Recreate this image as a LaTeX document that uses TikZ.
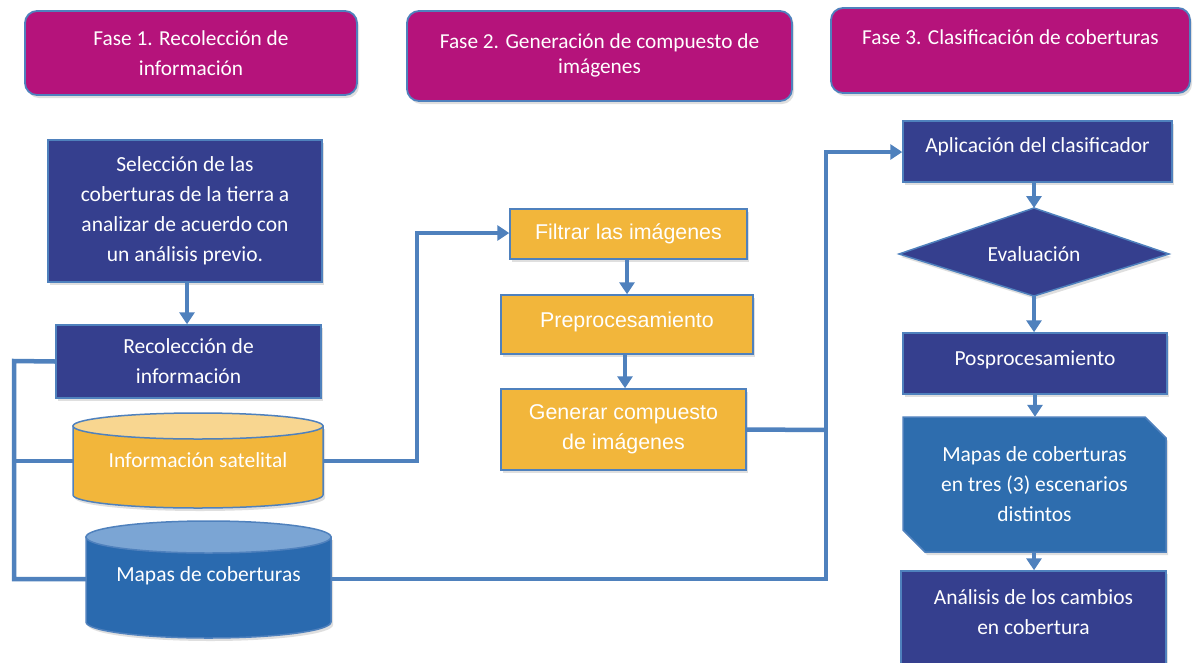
\documentclass[tikz,border=0pt]{standalone}
\usepackage{fontspec}
\setmainfont{Carlito}
\newfontfamily\arialf{Liberation Sans}
\usetikzlibrary{arrows.meta,shadows}
\definecolor{mag}{RGB}{181,19,123}
\definecolor{navy}{RGB}{53,63,142}
\definecolor{orng}{RGB}{242,182,59}
\definecolor{orngtop}{RGB}{248,214,144}
\definecolor{lineblue}{RGB}{79,129,189}
\definecolor{cylblue}{RGB}{42,106,175}
\definecolor{cyltop}{RGB}{123,165,212}
\definecolor{mapblue}{RGB}{46,109,174}
\begin{document}
\begin{tikzpicture}[x=1pt,y=-1pt,
  shadowed/.style={drop shadow={opacity=0.25,shadow xshift=2pt,shadow yshift=-3pt}},
  phase/.style={draw=lineblue,line width=1.8pt,fill=mag,rounded corners=12pt,text=white,align=center,font=\fontsize{21.3}{30}\selectfont,shadowed,inner sep=0pt},
  navybox/.style={draw=lineblue,line width=1.5pt,fill=navy,text=white,align=center,font=\fontsize{21.5}{30}\selectfont,shadowed,inner sep=0pt},
  orbox/.style={draw=lineblue,line width=1.5pt,fill=orng,text=white,align=center,font=\arialf\fontsize{21.4}{30}\selectfont,shadowed,inner sep=0pt},
  txt/.style={text=white,align=center,font=\fontsize{21.5}{30}\selectfont,inner sep=0pt},
  conn/.style={draw=lineblue,line width=4.5pt},
  arr/.style={conn,-{Triangle[width=15pt,length=12pt]}},
  shapeborder/.style={draw=lineblue,line width=1.5pt}
]
\useasboundingbox (0,0) rectangle (1194,662);
\fill[white] (0,0) rectangle (1194,662);

% phases
\node[phase,minimum width=332pt,minimum height=84pt] (f1) at (191,53) {Fase 1. Recolección de\\información};
\node[phase,minimum width=385pt,minimum height=90pt,font=\fontsize{21.3}{25}\selectfont] (f2) at (599.5,56) {Fase 2. Generación de compuesto de\\imágenes\\[-27pt]\strut};
\node[phase,minimum width=359pt,minimum height=85pt] (f3) at (1010.5,50.5) {Fase 3. Clasificación de coberturas\\[-13pt]\strut};

% column 1
\node[navybox,minimum width=274pt,minimum height=142pt] (sel) at (185,211) {Selección de las\\coberturas de la tierra a\\analizar de acuerdo con\\un análisis previo.};
\node[navybox,minimum width=265pt,minimum height=73pt] (rec) at (188.5,361.5) {Recolección de\\información};

% cylinder: información satelital
\path[fill=orng,shapeborder,shadowed] (73,426) -- (73,495) arc[start angle=180,end angle=360,x radius=125pt,y radius=13pt] -- (323,426) -- cycle;
\path[fill=orngtop,shapeborder] (198,426) ellipse[x radius=125pt,y radius=13pt];
\node[txt,minimum width=250pt,minimum height=70pt] (sat) at (198,460) {Información satelital};

% cylinder: mapas de coberturas
\path[fill=cylblue,shapeborder,shadowed] (86,537) -- (86,622) arc[start angle=180,end angle=360,x radius=122.5pt,y radius=16pt] -- (331,537) -- cycle;
\path[fill=cyltop,shapeborder] (208.5,537) ellipse[x radius=122.5pt,y radius=16pt];
\node[txt,minimum width=245pt,minimum height=60pt] (map) at (208.5,576) {Mapas de coberturas};

% column 2
\node[orbox,minimum width=237pt,minimum height=50pt] (filt) at (628.5,234) {Filtrar las imágenes};
\node[orbox,minimum width=252pt,minimum height=59pt] (prep) at (627,324.5) {Preprocesamiento\\[-29pt]\strut};
\node[orbox,minimum width=245pt,minimum height=81pt] (gen) at (623.5,429.5) {Generar compuesto\\de imágenes};

% column 3
\node[navybox,minimum width=269pt,minimum height=61pt] (apl) at (1037.5,151.5) {Aplicación del clasificador\\[-27pt]\strut};
\path[fill=navy,shapeborder,shadowed] (899,254) -- (1034,208) -- (1169,254) -- (1034,296) -- cycle;
\coordinate (evT) at (1034,208);
\coordinate (evB) at (1034,296);
\node[txt] (ev) at (1034,254) {Evaluación};
\node[navybox,minimum width=264pt,minimum height=61pt] (pos) at (1035,363.5) {Posprocesamiento\\[-29pt]\strut};
\path[fill=mapblue,shapeborder,shadowed] (903,417) -- (1145,417) -- (1166,438) -- (1166,552) -- (925,552) -- (903,530) -- cycle;
\node[txt,minimum width=263pt,minimum height=135pt] (m3) at (1034.5,484.5) {Mapas de coberturas\\en tres (3) escenarios\\distintos};
\begin{scope}
\clip (0,0) rectangle (1194,662);
\node[navybox,minimum width=265pt,minimum height=100pt] (ana) at (1033.5,621) {};
\end{scope}
\node[txt] (anat) at (1033.5,612) {Análisis de los cambios\\en cobertura};

% connectors
\draw[arr] (sel.south -| 187,0) -- (rec.north -| 187,0);
\draw[conn] (rec.west) -- (14,361) -- (14,579) -- (map.west |- 0,579);
\draw[conn] (14,461) -- (73,461);
\draw[arr] (323,461) -- (417,461) -- (417,233) -- (filt.west |- 0,233);
\draw[arr] (filt.south -| 627,0) -- (prep.north -| 627,0);
\draw[arr] (prep.south -| 625,0) -- (gen.north -| 625,0);
\draw[conn] (gen.east) -- (826,430);
\draw[arr] (331,579) -- (826,579) -- (826,152) -- (apl.west |- 0,152);
\draw[arr] (apl.south -| evT) -- (evT);
\draw[arr] (evB) -- (pos.north -| evB);
\draw[arr] (pos.south -| 1035,0) -- (m3.north -| 1035,0);
\draw[arr] (m3.south -| 1034,0) -- (ana.north -| 1034,0);
\end{tikzpicture}
\end{document}
